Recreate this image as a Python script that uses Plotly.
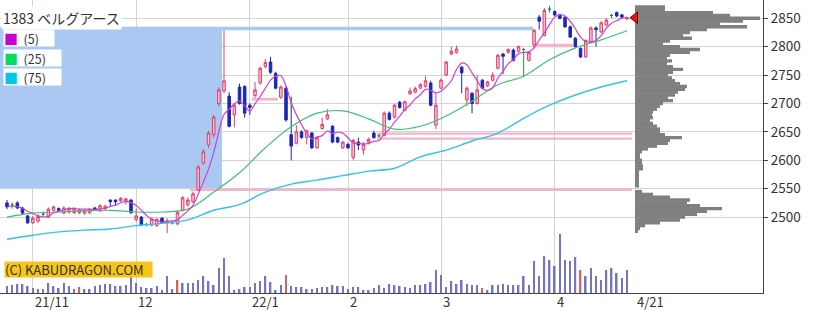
import plotly.graph_objects as go
import pandas as pd

# ---------------- data ----------------
title_text = "1383 ベルグアース"
month_ticks = [5, 25, 47, 66, 84, 106]
month_labels = ["21/11", "12", "22/1", "2", "3", "4"]
last_label = "4/21"
price_ticks = [2500, 2550, 2600, 2650, 2700, 2750, 2800, 2850]

opens = [2525, 2521, 2525, 2516, 2502, 2490, 2493, 2505, 2500, 2512,
         2515, 2507, 2509, 2508, 2508, 2507, 2508, 2516, 2511, 2515,
         2530, 2530, 2529, 2527, 2530, 2496, 2500, 2487, 2486, 2485,
         2498, 2490, 2490, 2488, 2512, 2522, 2527, 2548, 2595, 2627,
         2645, 2700, 2722, 2713, 2680, 2729, 2730, 2697, 2714, 2736,
         2765, 2773, 2753, 2711, 2727, 2645, 2630, 2650, 2640, 2648,
         2622, 2656, 2673, 2660, 2640, 2622, 2628, 2605, 2632, 2618,
         2632, 2648, 2643, 2644, 2683, 2676, 2702, 2688, 2717, 2720,
         2727, 2730, 2736, 2662, 2727, 2750, 2787, 2790, 2764, 2706,
         2718, 2700, 2741, 2731, 2741, 2762, 2787, 2790, 2794, 2792,
         2795, 2776, 2803, 2852, 2820, 2866, 2862, 2856, 2852, 2835,
         2815, 2797, 2782, 2808, 2833, 2826, 2838, 2855, 2860, 2856,
         2849]
highs = [2530, 2526, 2528, 2518, 2504, 2502, 2505, 2510, 2517, 2520,
         2517, 2519, 2518, 2517, 2515, 2514, 2516, 2518, 2523, 2522,
         2531, 2531, 2535, 2534, 2532, 2515, 2502, 2490, 2499, 2498,
         2500, 2498, 2494, 2512, 2537, 2535, 2545, 2592, 2620, 2652,
         2680, 2728, 2829, 2720, 2700, 2735, 2732, 2700, 2738, 2765,
         2778, 2782, 2756, 2732, 2730, 2712, 2662, 2653, 2654, 2650,
         2642, 2675, 2690, 2662, 2642, 2634, 2631, 2638, 2640, 2632,
         2640, 2652, 2646, 2686, 2686, 2699, 2705, 2705, 2728, 2730,
         2736, 2748, 2740, 2718, 2744, 2775, 2800, 2802, 2766, 2730,
         2720, 2750, 2743, 2740, 2755, 2787, 2789, 2797, 2797, 2802,
         2798, 2792, 2831, 2856, 2868, 2872, 2864, 2858, 2854, 2837,
         2817, 2799, 2813, 2836, 2836, 2845, 2850, 2858, 2862, 2858,
         2853]
lows = [2514, 2515, 2514, 2505, 2488, 2488, 2490, 2500, 2498, 2510,
        2509, 2505, 2506, 2505, 2505, 2504, 2505, 2511, 2509, 2512,
        2518, 2520, 2527, 2522, 2505, 2492, 2484, 2484, 2484, 2483,
        2488, 2472, 2487, 2486, 2510, 2518, 2524, 2546, 2592, 2622,
        2640, 2695, 2718, 2658, 2658, 2698, 2675, 2680, 2710, 2733,
        2762, 2752, 2725, 2708, 2668, 2600, 2628, 2638, 2628, 2620,
        2620, 2654, 2671, 2630, 2630, 2620, 2620, 2600, 2618, 2610,
        2628, 2638, 2640, 2642, 2670, 2674, 2691, 2686, 2715, 2718,
        2725, 2728, 2695, 2655, 2725, 2748, 2785, 2788, 2718, 2696,
        2683, 2698, 2725, 2729, 2739, 2760, 2752, 2788, 2774, 2790,
        2748, 2774, 2797, 2830, 2818, 2860, 2854, 2848, 2833, 2815,
        2798, 2780, 2780, 2806, 2800, 2824, 2836, 2850, 2852, 2850,
        2847]
closes = [2518, 2521, 2516, 2507, 2490, 2498, 2501, 2505, 2514, 2518,
          2512, 2516, 2515, 2515, 2513, 2512, 2514, 2513, 2520, 2519,
          2527, 2527, 2533, 2532, 2508, 2502, 2486, 2487, 2497, 2496,
          2490, 2493, 2490, 2508, 2534, 2530, 2541, 2588, 2615, 2648,
          2676, 2724, 2740, 2660, 2697, 2700, 2683, 2693, 2724, 2762,
          2772, 2755, 2727, 2729, 2671, 2625, 2650, 2640, 2652, 2622,
          2640, 2663, 2680, 2632, 2632, 2632, 2622, 2635, 2627, 2628,
          2637, 2640, 2643, 2683, 2672, 2697, 2693, 2703, 2722, 2726,
          2733, 2740, 2697, 2697, 2741, 2773, 2792, 2796, 2754, 2727,
          2700, 2724, 2727, 2738, 2750, 2785, 2783, 2795, 2776, 2800,
          2795, 2790, 2829, 2845, 2864, 2866, 2856, 2850, 2835, 2817,
          2800, 2782, 2811, 2833, 2830, 2842, 2847, 2855, 2854, 2852,
          2851]
volumes = [7, 8, 9, 9, 7, 5, 4, 4, 10, 7,
           5, 10, 7, 4, 6, 4, 4, 7, 8, 9,
           9, 7, 7, 8, 17, 10, 6, 5, 5, 7,
           3, 17, 4, 13, 10, 10, 10, 13, 17, 12,
           8, 25, 35, 17, 3, 4, 6, 6, 10, 12,
           17, 11, 3, 8, 18, 7, 6, 6, 4, 4,
           5, 6, 6, 8, 7, 7, 4, 6, 6, 3,
           3, 5, 8, 5, 9, 8, 7, 6, 5, 8,
           8, 9, 11, 23, 18, 6, 12, 9, 13, 9,
           8, 8, 5, 3, 8, 8, 9, 8, 8, 8,
           17, 8, 32, 17, 37, 33, 27, 59, 33, 32,
           36, 23, 17, 25, 17, 13, 23, 25, 20, 15,
           23]
vol_red_sessions = [14, 33, 54, 92, 111]

ma_sessions = [0, 5, 10, 15, 20, 25, 30, 35, 40, 45, 50, 55, 60,
               65, 70, 75, 80, 85, 90, 95, 100, 105, 110, 115, 120]
ma25_vals = [2500, 2507, 2509, 2511, 2512, 2509, 2509, 2514, 2544, 2578,
             2622, 2659, 2683, 2687, 2673, 2655, 2660, 2678, 2704, 2733,
             2748, 2777, 2798, 2812, 2828]
ma75_vals = [2461, 2468, 2474, 2477, 2479, 2485, 2489, 2495, 2512, 2522,
             2544, 2558, 2565, 2573, 2581, 2586, 2606, 2618, 2634, 2648,
             2674, 2697, 2715, 2729, 2740]

profile_prices = [2870, 2865, 2860, 2855, 2850, 2845, 2840, 2835, 2830, 2825,
                  2820, 2815, 2810, 2805, 2800, 2795, 2790, 2785, 2780, 2775,
                  2770, 2765, 2760, 2755, 2750, 2745, 2740, 2735, 2730, 2725,
                  2720, 2715, 2710, 2705, 2700, 2695, 2690, 2685, 2680, 2675,
                  2670, 2665, 2660, 2655, 2650, 2645, 2640, 2635, 2630, 2625,
                  2620, 2615, 2610, 2605, 2600, 2595, 2590, 2585, 2580, 2575,
                  2570, 2565, 2560, 2555, 2550, 2545, 2540, 2535, 2530, 2525,
                  2520, 2515, 2510, 2505, 2500, 2495, 2490, 2485, 2480, 2475]
profile_vol = [30, 30, 78, 95, 125, 108, 85, 112, 72, 55,
               48, 57, 35, 28, 45, 65, 55, 35, 32, 37,
               32, 38, 48, 38, 33, 37, 40, 45, 52, 50,
               43, 40, 33, 38, 28, 25, 22, 18, 17, 18,
               15, 18, 22, 25, 25, 30, 47, 35, 33, 22,
               13, 7, 5, 5, 7, 7, 8, 8, 4, 4,
               4, 4, 4, 4, 0, 7, 18, 35, 55, 52,
               65, 87, 72, 62, 50, 45, 25, 10, 5, 3]

# highlighted zones: (start session, end session, low price, high price)
blue_zones = [(-1.5, 41.6, 2551, 2835), (41.6, 101.8, 2829, 2835)]
pink_zones = [(35.4, 121.0, 2546, 2551), (71.6, 121.0, 2645, 2649),
              (71.6, 121.0, 2636, 2640), (47.4, 52.4, 2705, 2710),
              (102.2, 109.5, 2799, 2805)]

# ---------------- geometry ----------------
W, H = 815, 310
ML, MR, MT, MB = 0, 52, 0, 17
PW, PH = W - ML - MR, H - MT - MB
FONT = "Noto Sans CJK JP"

def px(x):
    return x / PW

def py(y):
    return 1 - y / PH

n = len(closes)
idx = list(range(n))
ma5 = pd.Series(closes).rolling(5, min_periods=1).mean().tolist()

fig = go.Figure()

# volume bars
vol_colors = ["#d06464" if i in vol_red_sessions else "#7474c0" for i in idx]
fig.add_trace(go.Bar(x=idx, y=volumes, width=0.32, marker=dict(color=vol_colors, line_width=0),
                     xaxis="x", yaxis="y2", showlegend=False))

# volume profile
fig.add_trace(go.Bar(x=profile_vol, y=profile_prices, orientation="h", width=6,
                     marker=dict(color="#808080", line_width=0),
                     xaxis="x2", yaxis="y", showlegend=False))

# moving averages
fig.add_trace(go.Scatter(x=ma_sessions, y=ma75_vals, mode="lines", line=dict(color="#34c2e8", width=1.4, shape="spline"),
                         showlegend=False))
fig.add_trace(go.Scatter(x=ma_sessions, y=ma25_vals, mode="lines", line=dict(color="#40c070", width=1.2, shape="spline"),
                         showlegend=False))
fig.add_trace(go.Scatter(x=idx, y=ma5, mode="lines", line=dict(color="#d040d0", width=1.2, shape="spline"),
                         showlegend=False))

# candles
def sub(cond):
    sel = [i for i in idx if cond(i)]
    return dict(x=sel, open=[opens[i] for i in sel], high=[highs[i] for i in sel],
                low=[lows[i] for i in sel], close=[closes[i] for i in sel])

UP = dict(line=dict(color="#e43c6c", width=1), fillcolor="#f7c3d3")
DN = dict(line=dict(color="#1c28b4", width=1), fillcolor="#1c28b4")
FL = dict(line=dict(color="#2e8a36", width=1), fillcolor="#2e8a36")

fig.add_trace(go.Candlestick(**sub(lambda i: closes[i] > opens[i]), increasing=UP, decreasing=UP,
                             whiskerwidth=0, showlegend=False))
fig.add_trace(go.Candlestick(**sub(lambda i: closes[i] < opens[i]), increasing=DN, decreasing=DN,
                             whiskerwidth=0, showlegend=False))
fig.add_trace(go.Candlestick(**sub(lambda i: closes[i] == opens[i]), increasing=FL, decreasing=FL,
                             whiskerwidth=0, showlegend=False))

# current price marker
fig.add_trace(go.Scatter(x=[0], y=[closes[-1]], mode="markers", xaxis="x2", yaxis="y",
                         marker=dict(symbol="triangle-left", size=10, color="#e01818",
                                     line=dict(color="#7a0000", width=1)),
                         showlegend=False))

shapes = []
for x0, x1, y0, y1 in blue_zones:
    shapes.append(dict(type="rect", xref="x", yref="y", x0=x0, x1=x1, y0=y0, y1=y1,
                       fillcolor="#a9c9f3", line_width=0, layer="between"))
for x0, x1, y0, y1 in pink_zones:
    shapes.append(dict(type="rect", xref="x", yref="y", x0=x0, x1=x1, y0=y0, y1=y1,
                       fillcolor="#f2b6cc", line_width=0, layer="between"))

annotations = []
for m, lab in zip(month_ticks, month_labels):
    annotations.append(dict(x=m, y=py(301), xref="x", yref="paper", text=lab, showarrow=False,
                            xanchor="left", yanchor="middle", xshift=1, borderpad=0,
                            font=dict(family=FONT, size=13, color="#333")))
annotations.append(dict(x=n - 1, y=py(301), xref="x", yref="paper", text=last_label, showarrow=False,
                        xanchor="left", yanchor="middle", xshift=9, borderpad=0,
                        font=dict(family=FONT, size=13, color="#333")))

# title
annotations.append(dict(x=px(1), y=py(18), xref="paper", yref="paper", text=title_text,
                        showarrow=False, xanchor="left", yanchor="middle", bgcolor="white",
                        borderpad=1, font=dict(family=FONT, size=14, color="#333")))

# legend boxes
legend_items = [("(5)", "#c800d2", 37.5, 50), ("(25)", "#00dc64", 57.5, 57), ("(75)", "#00c8e6", 76.5, 57)]
for lab, col, mid, wid in legend_items:
    annotations.append(dict(x=px(3), y=py(mid), xref="paper", yref="paper",
                            text=f"<span style='color:{col};font-size:14px'>■</span>  {lab}",
                            showarrow=False, xanchor="left", yanchor="middle", align="left",
                            bgcolor="white", borderpad=0, height=16, width=wid,
                            font=dict(family=FONT, size=12.5, color="#333")))

# copyright
annotations.append(dict(x=px(4), y=py(261), xref="paper", yref="paper", text="(C) KABUDRAGON.COM",
                        showarrow=False, xanchor="left", yanchor="top", align="left",
                        bgcolor="#f5c518", borderpad=0, width=147, height=15,
                        font=dict(family=FONT, size=13, color="#333")))

step = 5.167
a = -7 / step
b = a + PW / step
pmin = 2850 - (PH - 18.3) / 0.568
pmax = 2850 + 18.3 / 0.568

fig.update_layout(
    width=W, height=H, margin=dict(l=ML, r=MR, t=MT, b=MB),
    paper_bgcolor="white", plot_bgcolor="white",
    barmode="overlay", showlegend=False, shapes=shapes, annotations=annotations,
    xaxis=dict(range=[a, b], tickvals=month_ticks, showticklabels=False, ticks="",
               showgrid=True, gridcolor="#d4d4d4", gridwidth=1, zeroline=False,
               showline=True, linecolor="#444", linewidth=1,
               rangeslider=dict(visible=False), fixedrange=True),
    xaxis2=dict(overlaying="x", anchor="y", range=[-635, PW - 635], visible=False),
    yaxis=dict(side="right", range=[pmin, pmax], tickvals=price_ticks, showgrid=True,
               gridcolor="#d4d4d4", gridwidth=1, zeroline=False, showline=True,
               linecolor="#444", linewidth=1, ticks="outside", ticklen=4, tickcolor="#444",
               tickfont=dict(family=FONT, size=13.5, color="#333")),
    yaxis2=dict(overlaying="y", range=[0, PH], visible=False),
)

fig.write_html("out.html")
